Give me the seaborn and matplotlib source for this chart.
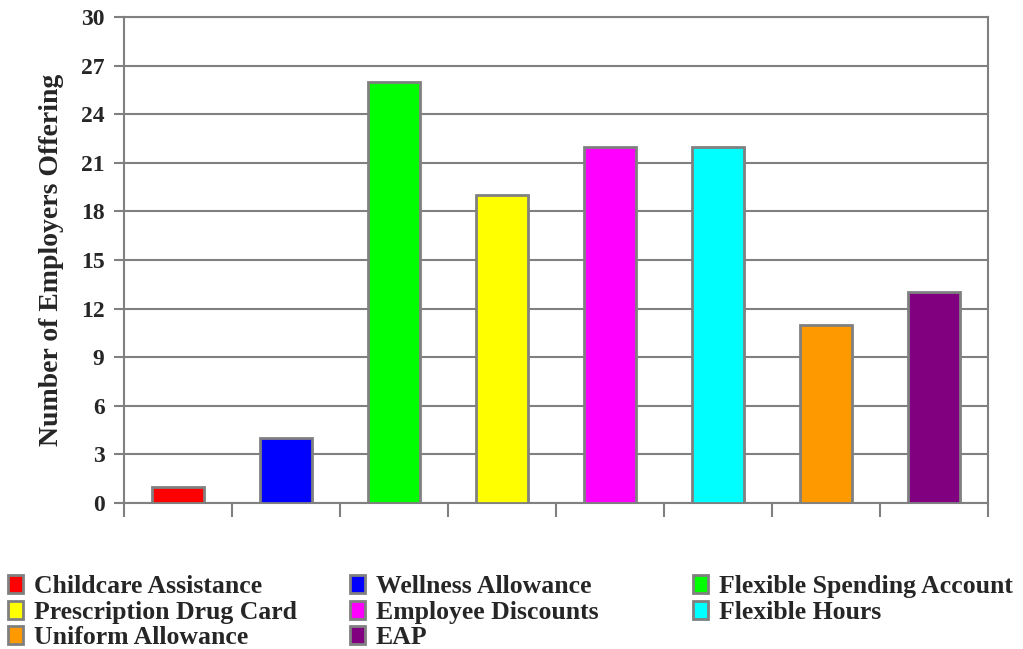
import matplotlib
matplotlib.use("Agg")
import matplotlib.pyplot as plt
import seaborn as sns
import pandas as pd

benefits = [
    "Childcare Assistance",
    "Wellness Allowance",
    "Flexible Spending Account",
    "Prescription Drug Card",
    "Employee Discounts",
    "Flexible Hours",
    "Uniform Allowance",
    "EAP",
]
employers = [1, 4, 26, 19, 22, 22, 11, 13]
colors = ["#FF0000", "#0000FF", "#00FF00", "#FFFF00",
          "#FF00FF", "#00FFFF", "#FF9900", "#800080"]
y_ticks = [0, 3, 6, 9, 12, 15, 18, 21, 24, 27, 30]

df = pd.DataFrame({"benefit": benefits, "employers": employers})

sns.set_style("white")
plt.rcParams["font.family"] = ["Liberation Serif", "DejaVu Serif"]
plt.rcParams["font.weight"] = "bold"

edge = "#808080"
fig = plt.figure(figsize=(10.23, 6.49), dpi=100)
ax = fig.add_axes([124 / 1023, 1 - 503 / 649, 864 / 1023, 486 / 649])

sns.barplot(data=df, x="benefit", y="employers", hue="benefit",
            palette=colors, saturation=1, width=0.49, edgecolor=edge,
            linewidth=2, legend=True, ax=ax, zorder=3)

handles, labels = ax.get_legend_handles_labels()
ax.get_legend().remove()

ax.set_ylim(0, 30)
ax.set_xlim(-0.5, len(benefits) - 0.5)
ax.set_yticks(y_ticks)
ax.set_yticklabels([str(t) for t in y_ticks], fontsize=17, fontweight="bold")
ax.set_xticks([i - 0.5 for i in range(len(benefits) + 1)])
ax.set_xticklabels([])
ax.tick_params(axis="y", direction="out", length=7, width=1.5, color=edge,
               left=True, pad=7)
ax.tick_params(axis="x", direction="out", length=10, width=1.5, color=edge,
               bottom=True)
ax.yaxis.grid(True, color=edge, linewidth=1.5, zorder=0)
ax.set_axisbelow(True)
for s in ax.spines.values():
    s.set_color(edge)
    s.set_linewidth(1.5)

ax.set_xlabel("")
ax.set_ylabel("Number of Employers Offering", fontsize=20, fontweight="bold",
              labelpad=12)

# legend laid out as three fixed columns under the chart
col_x = [8 / 1023, 350 / 1023, 693 / 1023]
columns = [[0, 3, 6], [1, 4, 7], [2, 5]]
for x0, idx in zip(col_x, columns):
    leg = fig.legend([handles[i] for i in idx], [labels[i] for i in idx],
                     loc="upper left", bbox_to_anchor=(x0, 1 - 575 / 649),
                     frameon=False, fontsize=18.5, ncol=1,
                     handlelength=0.6, handleheight=0.7,
                     handletextpad=0.4, labelspacing=0.1,
                     borderpad=0, borderaxespad=0)
    for t in leg.get_texts():
        t.set_fontweight("bold")

fig.savefig("out.png", dpi=100)
